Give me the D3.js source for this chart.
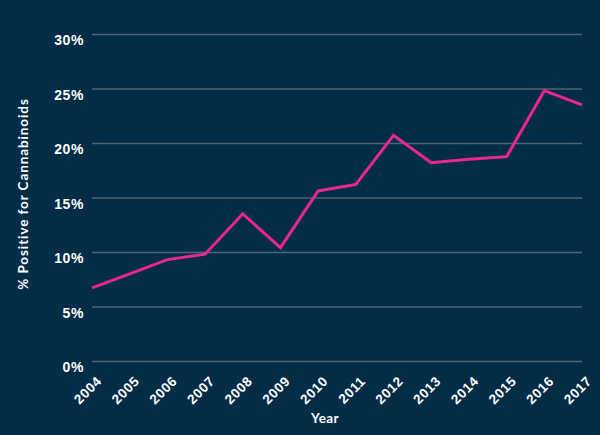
<!DOCTYPE html>
<html>
<head>
<meta charset="utf-8">
<script src="https://cdn.jsdelivr.net/npm/d3@7"></script>
<style>
  body { margin: 0; background: #032c46; }
  svg { display: block; font-family: Lato, "Open Sans", sans-serif; }
</style>
</head>
<body>
<svg id="chart"></svg>
<script>
const years = [2004, 2005, 2006, 2007, 2008, 2009, 2010, 2011, 2012, 2013, 2014, 2015, 2016, 2017];
const positive = [6.7, 8.0, 9.3, 9.8, 13.5, 10.4, 15.6, 16.2, 20.7, 18.2, 18.5, 18.75, 24.8, 23.5];
const yTicks = [0, 5, 10, 15, 20, 25, 30];

const width = 600, height = 435;
const margin = { top: 34, right: 18, bottom: 74, left: 92 };

const svg = d3.select('#chart').attr('width', width).attr('height', height);

svg.append('rect')
  .attr('width', width).attr('height', height)
  .attr('fill', '#032c46');

const x = d3.scaleLinear()
  .domain([years[0], years[years.length - 1]])
  .range([margin.left, width - margin.right]);

const y = d3.scaleLinear()
  .domain([0, 30])
  .range([height - margin.bottom, margin.top]);

// gridlines + y labels
const yAxis = d3.axisLeft(y)
  .tickValues(yTicks)
  .tickSize(-(width - margin.left - margin.right))
  .tickPadding(8)
  .tickFormat(d => d + '%');

const gy = svg.append('g')
  .attr('transform', `translate(${margin.left},0)`)
  .call(yAxis);
gy.select('.domain').remove();
gy.selectAll('.tick line').attr('stroke', '#4f6477').attr('stroke-width', 1.5);
gy.selectAll('.tick text')
  .attr('fill', '#fff')
  .attr('font-size', 14)
  .attr('font-weight', 'bold')
  .attr('letter-spacing', 0.6)
  .attr('dy', '0.75em');

// x axis
const xAxis = d3.axisBottom(x)
  .tickValues(years)
  .tickSize(0)
  .tickFormat(d3.format('d'));

const gx = svg.append('g')
  .attr('transform', `translate(0,${height - margin.bottom})`)
  .call(xAxis);
gx.select('.domain').remove();
gx.selectAll('.tick text')
  .attr('fill', '#fff')
  .attr('font-size', 13.5)
  .attr('font-weight', 'bold')
  .attr('letter-spacing', 0.6)
  .attr('text-anchor', 'end')
  .attr('dy', null)
  .attr('y', 0)
  .attr('transform', 'translate(10,21) rotate(-45)');

// line
const line = d3.line()
  .x((d, i) => x(years[i]))
  .y(d => y(d));

svg.append('path')
  .datum(positive)
  .attr('fill', 'none')
  .attr('stroke', '#e8288f')
  .attr('stroke-width', 3)
  .attr('stroke-linejoin', 'miter')
  .attr('d', line);

// axis titles
svg.append('text')
  .attr('x', 325)
  .attr('y', 423)
  .attr('text-anchor', 'middle')
  .attr('fill', '#fff')
  .attr('font-size', 13.5)
  .attr('font-weight', 'bold')
  .attr('letter-spacing', 0.4)
  .text('Year');

svg.append('text')
  .attr('transform', 'translate(28,194) rotate(-90)')
  .attr('text-anchor', 'middle')
  .attr('fill', '#fff')
  .attr('font-size', 13.5)
  .attr('font-weight', 'bold')
  .attr('letter-spacing', 0.9)
  .text('% Positive for Cannabinoids');
</script>
</body>
</html>
